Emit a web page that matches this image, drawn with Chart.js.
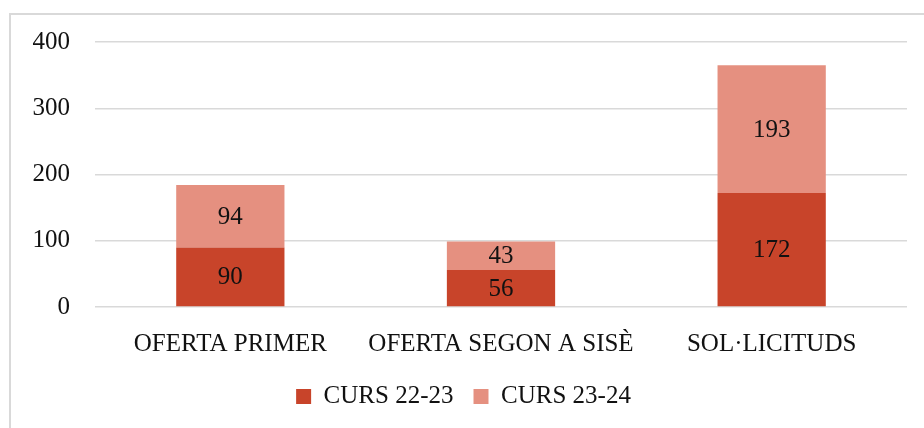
<!DOCTYPE html>
<html>
<head>
<meta charset="utf-8">
<script src="https://cdn.jsdelivr.net/npm/chart.js@4"></script>
<style>
  html, body { margin: 0; padding: 0; background: #fff; }
  #wrap { position: relative; width: 924px; height: 428px; overflow: hidden; }
  #frame { position: absolute; left: 9px; top: 13px; width: 940px; height: 440px;
           border-left: 2px solid #d9d9d9; border-top: 2px solid #d9d9d9; box-sizing: border-box; }
  canvas { position: absolute; left: 0; top: 0; }
</style>
</head>
<body>
<div id="wrap">
  <div id="frame"></div>
  <canvas id="chart" width="924" height="428"></canvas>
</div>
<script>
// Data
const categories = ['OFERTA PRIMER', 'OFERTA SEGON A SISÈ', 'SOL·LICITUDS'];
const curs2223 = [90, 56, 172];
const curs2324 = [94, 43, 193];
const yTicks = [0, 100, 200, 300, 400];

const FONT = "'Liberation Serif', 'DejaVu Serif', serif";
const SIZE = 25;
const TEXT = '#111';

// draw the value inside each bar segment
const barValues = {
  id: 'barValues',
  afterDatasetsDraw(chart) {
    const ctx = chart.ctx;
    ctx.save();
    ctx.font = SIZE + 'px ' + FONT;
    ctx.fillStyle = TEXT;
    ctx.textAlign = 'center';
    ctx.textBaseline = 'middle';
    chart.data.datasets.forEach((ds, i) => {
      chart.getDatasetMeta(i).data.forEach((bar, j) => {
        const mid = (bar.y + bar.base) / 2;
        ctx.fillText(String(ds.data[j]), bar.x, mid + 1);
      });
    });
    ctx.restore();
  }
};

new Chart(document.getElementById('chart'), {
  type: 'bar',
  data: {
    labels: categories,
    datasets: [
      { label: 'CURS 22-23', data: curs2223, backgroundColor: '#c8442a' },
      { label: 'CURS 23-24', data: curs2324, backgroundColor: '#e59080' }
    ]
  },
  options: {
    responsive: false,
    animation: false,
    layout: { padding: { left: 20, right: 17, top: 42, bottom: 9 } },
    categoryPercentage: 0.4,
    barPercentage: 1,
    plugins: {
      tooltip: { enabled: false },
      legend: {
        position: 'bottom',
        labels: {
          font: { family: FONT, size: SIZE },
          color: TEXT,
          boxWidth: 15,
          boxHeight: 15,
          padding: 20
        }
      }
    },
    scales: {
      x: {
        stacked: true,
        grid: { display: false },
        border: { display: false },
        ticks: { font: { family: FONT, size: SIZE }, color: TEXT, padding: 14, maxRotation: 0 },
        afterFit: s => { s.height = 57; }
      },
      y: {
        stacked: true,
        min: 0,
        max: 400,
        afterBuildTicks: s => { s.ticks = yTicks.map(v => ({ value: v })); },
        grid: { color: '#d9d9d9', lineWidth: 1.5, drawTicks: false },
        border: { display: false },
        ticks: { font: { family: FONT, size: SIZE }, color: TEXT, padding: 25 },
        afterFit: s => { s.width = 75; }
      }
    }
  },
  plugins: [barValues]
});
</script>
</body>
</html>
